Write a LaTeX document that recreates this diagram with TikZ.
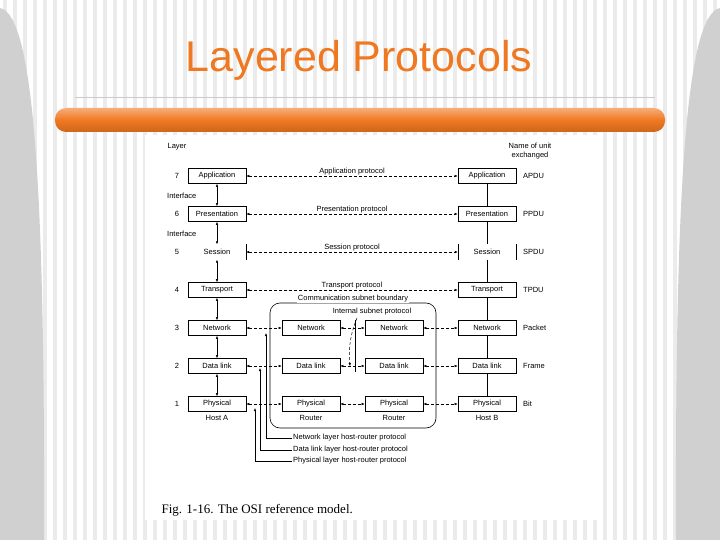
\documentclass[tikz,border=0pt]{standalone}
\usepackage{fontspec}
\setmainfont{Liberation Sans}
\newfontfamily\capfont{Liberation Serif}
\usetikzlibrary{arrows.meta}
\definecolor{org}{HTML}{F07820}
\definecolor{stripe}{HTML}{EBEBEB}
\definecolor{side}{HTML}{D0D0D0}
\tikzset{
 lay/.style={draw,line width=0.6pt,minimum width=58pt,minimum height=15pt,inner sep=0pt,font=\fontsize{7.5}{8}\selectfont},
 openbox/.style={minimum width=58pt,minimum height=15pt,inner sep=0pt,font=\fontsize{7.5}{8}\selectfont},
 txt/.style={font=\fontsize{7.5}{8.5}\selectfont,inner sep=1pt},
 prot/.style={densely dashed,line width=0.5pt,{Latex[length=3pt,width=2.5pt]}-{Latex[length=3pt,width=2.5pt]}},
 vdbl/.style={line width=0.5pt,{Latex[length=3pt,width=2.5pt]}-{Latex[length=3pt,width=2.5pt]}},
 solid1/.style={line width=0.5pt},
}
\begin{document}
\begin{tikzpicture}[x=1pt,y=-1pt]
\useasboundingbox (0,0) rectangle (720,540);
\fill[white] (0,0) rectangle (720,540);
\foreach \i in {0,...,71}{\fill[stripe] (\i*10+3,0) rectangle (\i*10+7,540);}
\fill[side] (0,8) .. controls (35,15) and (45,200) .. (44,540) -- (0,540) -- cycle;
\fill[side] (720,8) .. controls (685,15) and (675,200) .. (676,540) -- (720,540) -- cycle;
\node[text=org,font=\fontsize{43}{46}\selectfont] (title) at (359,60) {Layered Protocols};
\draw[line width=0.6pt,stripe!70!gray] (75,97) -- (655,97);
\shade[top color=org!60!white,bottom color=org!85!black,middle color=org,rounded corners=11pt] (55,108) rectangle (665,132);
\fill[white] (145,135) rectangle (600,520);
% headers
\node[txt] (hlayer) at (177,147) {Layer};
\node[txt,align=center] (hunit) at (530,151) {Name of unit\\exchanged};
% rows
\foreach \n/\y/\name/\unit/\k in {7/176/Application/APDU/a,6/214/Presentation/PPDU/p,5/252/Session/SPDU/s,4/290/Transport/TPDU/t,3/328/Network/Packet/n,2/366/Data link/Frame/d,1/404/Physical/Bit/ph}{
  \node[txt] (num\k) at (177,\y) {\n};
  \node[txt,anchor=west] (unit\k) at (522,\y) {\unit};
}
\foreach \y/\name/\k in {176/Application/a,214/Presentation/p,290/Transport/t,328/Network/n,366/Data link/d,404/Physical/ph}{
  \node[lay] (L\k) at (217,\y) {\name};
  \node[lay] (R\k) at (487,\y) {\name};
}
\node[openbox] (Ls) at (217,252) {Session};
\node[openbox] (Rs) at (487,252) {Session};
\draw[solid1] (Ls.north east) -- (Ls.south east) (Rs.north west) -- (Rs.south west) (Rs.north east) -- (Rs.south east);
\node[txt,anchor=west] (if1) at (166,196) {Interface};
\node[txt,anchor=west] (if2) at (166,234) {Interface};
% left vertical arrows
\draw[vdbl] (La) -- (Lp); \draw[vdbl] (Lp) -- (Ls); \draw[vdbl] (Ls) -- (Lt);
\draw[vdbl] (Lt) -- (Ln); \draw[vdbl] (Ln) -- (Ld); \draw[vdbl] (Ld) -- (Lph);
% right vertical lines
\draw[solid1] (Ra) -- (Rp) (Rp) -- (Rs) (Rs) -- (Rt) (Rt) -- (Rn) (Rn) -- (Rd) (Rd) -- (Rph);
% upper protocols
\draw[prot] (La.east) -- node[txt,above] {Application protocol} (Ra.west);
\draw[prot] (Lp.east) -- node[txt,above] {Presentation protocol} (Rp.west);
\draw[prot] (Ls.east) -- node[txt,above] {Session protocol} (Rs.west);
\draw[prot] (Lt.east) -- node[txt,above] {Transport protocol} (Rt.west);
% routers
\foreach \y/\name/\k in {328/Network/n,366/Data link/d,404/Physical/ph}{
  \node[lay] (A\k) at (311,\y) {\name};
  \node[lay] (B\k) at (394,\y) {\name};
}
\node[txt] (router1) at (311,418) {Router};
\node[txt] (router2) at (394,418) {Router};
\node[txt] (hosta) at (217,418) {Host A};
\node[txt] (hostb) at (487,418) {Host B};
\draw[line width=0.6pt,rounded corners=10pt] (270,303) rectangle (436,428);
\node[txt,fill=white] (csb) at (353,299) {Communication subnet boundary};
\node[txt] (isp) at (372,312) {Internal subnet protocol};
\foreach \k in {n,d,ph}{
  \draw[prot] (L\k.east) -- (A\k.west);
  \draw[prot] (A\k.east) -- (B\k.west);
  \draw[prot] (B\k.east) -- (R\k.west);
}
\coordinate (ispc) at (357,318);
\draw[densely dashed,line width=0.5pt,-{Latex[length=3pt,width=2.5pt]}] (ispc) .. controls (352,330) and (348,345) .. (350,366);
\draw[line width=0.5pt] (355,320) -- (355,372);
% bottom legends
\node[txt,anchor=west] (lgn) at (292,438) {Network layer host-router protocol};
\node[txt,anchor=west] (lgd) at (292,450) {Data link layer host-router protocol};
\node[txt,anchor=west] (lgph) at (292,461) {Physical layer host-router protocol};
\coordinate (tn) at (266,333); \coordinate (td) at (260,368); \coordinate (tph) at (255,408);
\draw[solid1,-{Latex[length=3pt,width=2.5pt]}] (lgn.west) -| (tn);
\draw[solid1,-{Latex[length=3pt,width=2.5pt]}] (lgd.west) -| (td);
\draw[solid1,-{Latex[length=3pt,width=2.5pt]}] (lgph.west) -| (tph);
\node[anchor=west,font=\capfont\fontsize{13}{14}\selectfont] (cap) at (158,510) {Fig. 1-16. The OSI reference model.};
\end{tikzpicture}
\end{document}
